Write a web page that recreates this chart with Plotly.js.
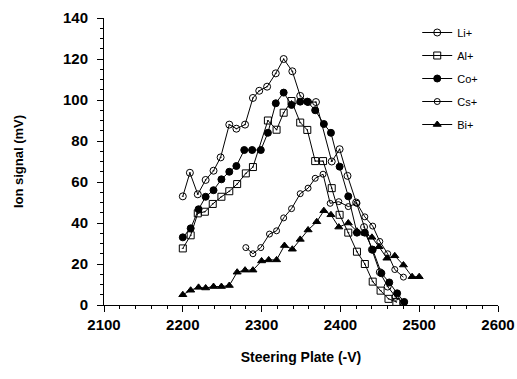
<!DOCTYPE html>
<html>
<head>
<meta charset="utf-8">
<script src="https://cdn.plot.ly/plotly-3.0.1.min.js"></script>
<style>html,body{margin:0;padding:0;background:#fff;}#chart{width:517px;height:379px;}</style>
</head>
<body>
<div id="chart"></div>
<script>
// Li+
const liX = [2200,2209,2219,2229,2239,2248,2259,2268,2279,2289,2297,2307,2318,2328,2339,2349,2359,2369,2389,2399,2409,2420,2430,2440,2450,2460,2470,2480];
const liY = [53,64.5,54,61,65.5,72,88,86,88,101,104.5,106.5,113,120,114,102,99,99,70,76,63,50,38,27,16,9,4,1];
// Al+
const alX = [2200,2210,2219,2228,2238,2249,2259,2269,2280,2289,2308,2319,2328,2338,2349,2358,2368,2378,2389,2399,2410,2421,2431,2441,2451,2461,2471];
const alY = [27.6,34,44.7,45.5,49.3,52.8,55.5,59,64.2,67.3,90,85.5,93.8,99.5,89,85.4,70.2,70.2,57,44,35.3,26,20,11.4,7,3,1.5];
// Co+
const coX = [2200,2210,2220,2229,2239,2249,2259,2268,2278,2288,2299,2308,2318,2328,2338,2349,2358,2368,2379,2388,2399,2410,2421,2431,2441,2452,2462,2472,2481];
const coY = [33,37.4,46.7,52.8,56,61.3,65,67.8,75.6,75.6,75.6,84,98.4,103.6,97.6,99.2,99.2,95,88.3,84,67.5,53,35.3,35.3,27,15.5,11,5.7,1.5];
// Cs+
const csX = [2280,2289,2299,2310,2319,2328,2338,2349,2359,2368,2378,2387,2398,2410,2421,2431,2441,2450,2460,2469,2480];
const csY = [28,25,28,34.6,36.2,42.5,47,54.3,57,61.8,63.8,49.6,50.4,48,49.6,43,38.5,31,25,17.3,13.6];
// Bi+
const biX = [2200,2210,2220,2229,2239,2249,2259,2269,2279,2289,2300,2309,2319,2329,2339,2349,2359,2370,2379,2388,2398,2410,2421,2431,2440,2449,2459,2469,2480,2491,2500];
const biY = [5,7.2,8.6,8.3,9,9,9.5,16,17,17,21.5,22,22,29,27.2,32,36.6,40.6,46,44,38,40,36,35,33,28.4,22.8,24,19.5,13.8,13.8];

const names = ['Li+','Al+','Co+','Cs+','Bi+'];
const xs = [liX, alX, coX, csX, biX];
const ys = [liY, alY, coY, csY, biY];
const symbols = ['circle-open-dot','square-open-dot','circle','circle-open','triangle-up'];
const sizes = [7,7,7,6,7];

const traces = names.map((n,i)=>({
  x: xs[i], y: ys[i], name: n, type:'scatter', mode:'lines+markers',
  legendgroup: n,
  line:{color:'#000', width:1},
  marker:{symbol:symbols[i], size:sizes[i], color:'#000', line:{color:'#000', width:1}}
}));

const axisFont = {family:'Liberation Sans, Arial, sans-serif', size:15, color:'#000', weight:'bold'};
const layout = {
  width:517, height:379,
  margin:{l:104, r:19, t:18, b:74},
  paper_bgcolor:'#fff', plot_bgcolor:'#fff',
  showlegend:true,
  legend:{x:0.795, xanchor:'left', y:1.0, yanchor:'top', tracegroupgap:4,
    font:{family:'Liberation Sans, Arial, sans-serif', size:11, color:'#000'}, bgcolor:'rgba(0,0,0,0)'},
  xaxis:{range:[2100,2600], dtick:100, tick0:2100, showgrid:false, zeroline:false,
    showline:true, linecolor:'#000', linewidth:1, ticks:'outside', ticklen:6, tickcolor:'#000',
    minor:{dtick:20, ticks:'outside', ticklen:3, tickcolor:'#000'},
    tickfont:axisFont,
    title:{text:'Steering Plate (-V)', font:{family:'Liberation Sans, Arial, sans-serif', size:14, color:'#000', weight:'bold'}, standoff:20}},
  yaxis:{range:[0,140], dtick:20, showgrid:false, zeroline:false,
    showline:true, linecolor:'#000', linewidth:1, ticks:'outside', ticklen:6, tickcolor:'#000',
    minor:{dtick:5, ticks:'outside', ticklen:3, tickcolor:'#000'},
    tickfont:axisFont, ticklabelstandoff:6,
    title:{text:'Ion signal (mV)', font:{family:'Liberation Sans, Arial, sans-serif', size:13, color:'#000', weight:'bold'}, standoff:36}}
};
Plotly.newPlot('chart', traces, layout, {displayModeBar:false, staticPlot:true});
</script>
</body>
</html>
